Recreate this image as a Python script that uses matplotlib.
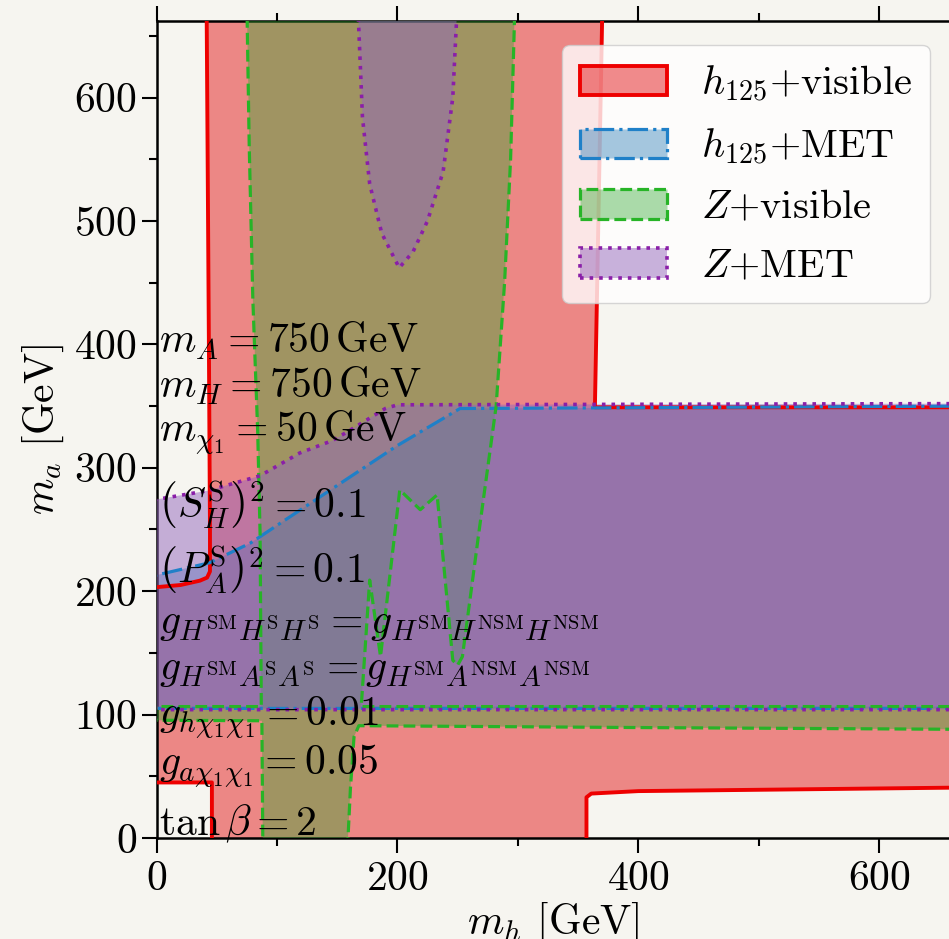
import matplotlib
matplotlib.use("Agg")
import matplotlib.pyplot as plt
from matplotlib.patches import Patch

plt.rcParams["font.family"] = "serif"
plt.rcParams["font.serif"] = ["cmr10"]
plt.rcParams["mathtext.fontset"] = "cm"
plt.rcParams["axes.formatter.use_mathtext"] = True

BG = "#f6f5f0"

# Allowed regions in the (m_h, m_a) plane, GeV. Outer sides run past the
# axis limits so only the physical boundaries are stroked.
red_x = [46, 357, 357, 361, 400, 680, 680, 364, 370.5, 41.5, 43.5, 44.4, 44.4, 42, 36, 20, -20, -20, 46]
red_y = [-20, -20, 33, 36, 38, 41, 349, 349, 690, 690, 400, 250, 216, 211, 208.5, 205, 201.5, 45, 45]

blue_x = [-20, 680, 680, 252, 200, 78, 44, -20]
blue_y = [105, 105, 350, 348, 318, 239, 223, 208.5]

green_x = [74.8, 77, 80, 84, 86, 87, -20, -20, 87.5, 88.4, 158, 161, 164, 168, 400, 680, 680,
           170, 177, 186, 202, 219, 233, 246, 250, 254, 268, 282, 289, 294, 298]
green_y = [690, 560, 436, 330, 247, 106.5, 106.5, 95.5, 95, -20, -20, 40, 82, 91, 89.5, 88, 106.5,
           106.5, 209, 147, 282, 266, 278, 144, 140, 147, 250, 350, 450, 550, 690]

purple_x = [-20, 680, 680, 200, 190, 160, 146, 119, 86, 43, -20]
purple_y = [104, 104, 352, 351, 348, 330, 322, 312, 293.5, 281.5, 271]
wedge_x = [166.5, 171, 177, 187, 201.5, 213, 225, 238, 246, 250.5]
wedge_y = [690, 584, 530, 490, 462, 475, 500, 540, 600, 690]

labels = [r"$h_{125}$+visible", r"$h_{125}$+MET", r"$Z$+visible", r"$Z$+MET"]

params = [
    r"$m_A = 750\,\mathrm{GeV}$",
    r"$m_H = 750\,\mathrm{GeV}$",
    r"$m_{\chi_1} = 50\,\mathrm{GeV}$",
    r"$\left(S_H^{\mathrm{S}}\right)^2 = 0.1$",
    r"$\left(P_A^{\mathrm{S}}\right)^2 = 0.1$",
    r"$g_{H^{\mathrm{SM}}H^{\mathrm{S}}H^{\mathrm{S}}} = g_{H^{\mathrm{SM}}H^{\mathrm{NSM}}H^{\mathrm{NSM}}}$",
    r"$g_{H^{\mathrm{SM}}A^{\mathrm{S}}A^{\mathrm{S}}} = g_{H^{\mathrm{SM}}A^{\mathrm{NSM}}A^{\mathrm{NSM}}}$",
    r"$g_{h\chi_1\chi_1} = 0.01$",
    r"$g_{a\chi_1\chi_1} = 0.05$",
    r"$\tan\beta = 2$",
]
param_baselines = [392.7, 356.3, 320.6, 259.1, 206.5, 165.6, 127.9, 90.7, 51.0, 2.4]

styles = [
    dict(face=(0.894, 0.102, 0.110, 0.5), edge="#ee0000", ls="-", lw=2.8),
    dict(face=(0.122, 0.467, 0.706, 0.4), edge="#1f80c8", ls="-.", lw=2.3),
    dict(face=(0.18, 0.66, 0.18, 0.4), edge="#27b427", ls="--", lw=2.3),
    dict(face=(0.58, 0.404, 0.741, 0.5), edge="#8a1fa8", ls=":", lw=2.6),
]
shapes = [
    [(red_x, red_y)],
    [(blue_x, blue_y)],
    [(green_x, green_y)],
    [(purple_x, purple_y), (wedge_x, wedge_y)],
]

fig = plt.figure(figsize=(9.49, 9.39), dpi=100, facecolor=BG)
ax = fig.add_axes([156.5 / 949, 101 / 939, 792.5 / 949, 817 / 939], facecolor=BG)

# fills first, then every outline above all fills
for k, (style, polys) in enumerate(zip(styles, shapes)):
    for xs, ys in polys:
        ax.fill(xs, ys, facecolor=style["face"], edgecolor="none", linewidth=0, zorder=1 + k)
        ax.plot(xs + xs[:1], ys + ys[:1], color=style["edge"], linestyle=style["ls"],
                linewidth=style["lw"], zorder=10 + k)

for text, yb in zip(params, param_baselines):
    ax.text(2, yb, text, fontsize=30, ha="left", va="baseline", zorder=20)

ax.set_xlim(0, 658)
ax.set_ylim(0, 662)
ax.set_xticks([0, 200, 400, 600])
ax.set_xticks([100, 300, 500], minor=True)
ax.set_yticks(range(0, 700, 100))
ax.set_yticks(range(50, 700, 100), minor=True)
ax.tick_params(which="both", direction="out", top=True, right=False, width=1.5,
               labelsize=30)
ax.tick_params(which="major", length=11)
ax.tick_params(which="minor", length=6)
ax.tick_params(axis="x", pad=5)
ax.tick_params(axis="y", pad=3)
for side in ("left", "bottom", "top"):
    ax.spines[side].set_linewidth(1.8)
ax.spines["right"].set_visible(False)

ax.set_xlabel(r"$m_h$ [GeV]", fontsize=30, labelpad=2)
ax.set_ylabel(r"$m_a$ [GeV]", fontsize=30, labelpad=6)

handles = [Patch(facecolor=s["face"], edgecolor=s["edge"], linestyle=s["ls"],
                 linewidth=s["lw"]) for s in styles]
leg = ax.legend(handles, labels, loc="upper right", bbox_to_anchor=(930 / 949, 894 / 939),
                bbox_transform=fig.transFigure, borderaxespad=0, fontsize=29,
                handlelength=2.15, handleheight=0.75, handletextpad=0.85,
                labelspacing=0.55, borderpad=0.45, framealpha=0.8, edgecolor="0.8")
leg.set_zorder(30)

fig.savefig("out.png", dpi=100, facecolor=BG)
